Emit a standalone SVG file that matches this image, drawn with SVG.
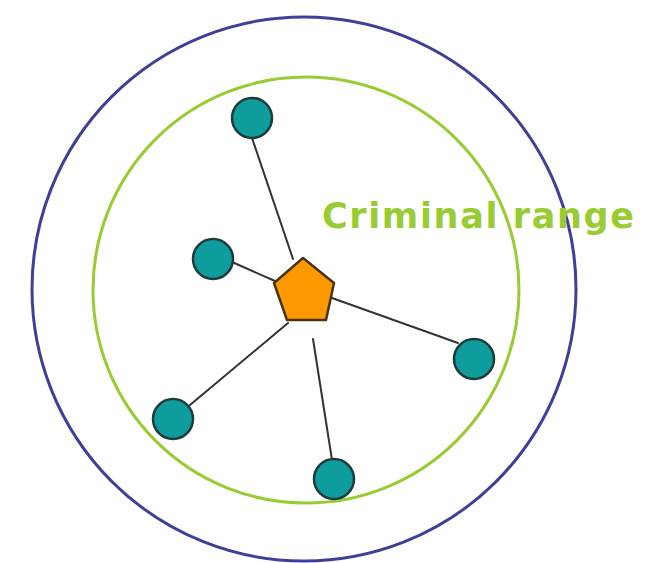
<svg xmlns="http://www.w3.org/2000/svg" width="649" height="563" viewBox="0 0 649 563">
<style>
.conn{stroke:#333333;stroke-width:2;fill:none;stroke-linecap:round}
.leaf{fill:#0f9c9c;stroke:#1e3b3b;stroke-width:2.5}
.label{font-family:"DejaVu Sans","Liberation Sans",sans-serif;font-weight:bold;font-size:35px;fill:#99cc33}
</style>
<rect width="649" height="563" fill="#ffffff"/>
<g id="outer-range"><circle cx="304" cy="289" r="272" fill="none" stroke="#3f3f99" stroke-width="3"/></g>
<g id="criminal-range"><circle cx="306" cy="290" r="213" fill="none" stroke="#99cc33" stroke-width="3"/></g>
<g id="connectors">
<line class="conn" x1="252" y1="138" x2="293" y2="259"/>
<line class="conn" x1="232" y1="262" x2="275" y2="281"/>
<line class="conn" x1="332" y1="298" x2="458" y2="343"/>
<line class="conn" x1="190" y1="405" x2="288" y2="323"/>
<line class="conn" x1="313" y1="339" x2="332" y2="460"/>
</g>
<g id="node-top"><circle class="leaf" cx="252" cy="118" r="20"/></g>
<g id="node-left"><circle class="leaf" cx="213" cy="259" r="20"/></g>
<g id="node-right"><circle class="leaf" cx="474" cy="359" r="20"/></g>
<g id="node-bottom-left"><circle class="leaf" cx="173" cy="419" r="20"/></g>
<g id="node-bottom"><circle class="leaf" cx="334" cy="479" r="20"/></g>
<g id="criminal"><polygon points="303,258 334,283 326,320 287,320 274,283" fill="#ff9900" stroke="#4a3410" stroke-width="2.5" stroke-linejoin="round"/></g>
<g id="label"><text class="label" x="322" y="228" textLength="312" lengthAdjust="spacing">Criminal range</text></g>
</svg>
